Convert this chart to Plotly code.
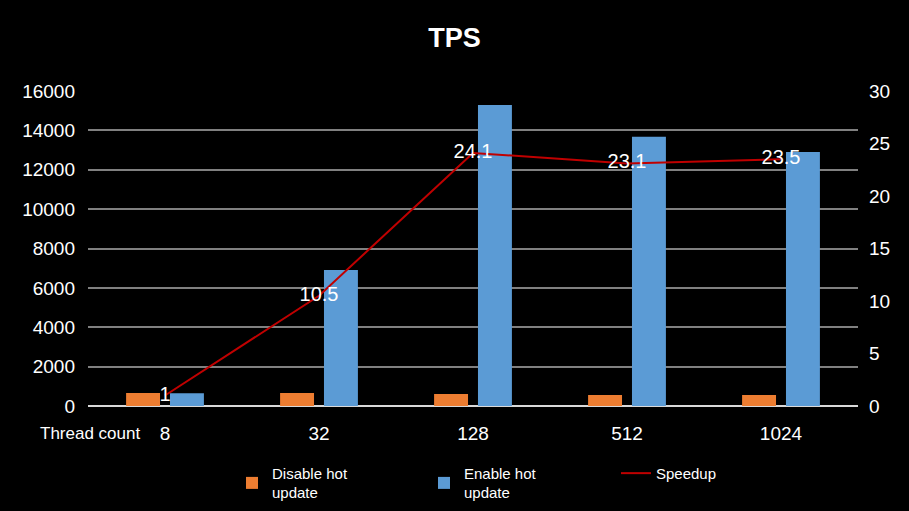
import plotly.graph_objects as go

# values
threads = ["8", "32", "128", "512", "1024"]
disable_hot = [660, 660, 610, 560, 560]
enable_hot = [650, 6910, 15290, 13670, 12900]
speedup = [1, 10.5, 24.1, 23.1, 23.5]
speedup_labels = ["1", "10.5", "24.1", "23.1", "23.5"]

font_name = "Liberation Sans Narrow, Liberation Sans, Arial"

fig = go.Figure()

fig.add_trace(go.Bar(
    x=threads, y=disable_hot, name="Disable hot<br>update",
    marker=dict(color="#ed7d31", line=dict(width=0)),
))
fig.add_trace(go.Bar(
    x=threads, y=enable_hot, name="Enable hot<br>update",
    marker=dict(color="#5b9bd5", line=dict(width=0)),
))
fig.add_trace(go.Scatter(
    x=threads, y=speedup, name="Speedup", yaxis="y2",
    mode="lines+text", line=dict(color="#c00000", width=2),
    text=speedup_labels, textposition="middle center",
    textfont=dict(color="white", size=20, family=font_name),
))

fig.update_layout(
    width=909, height=511,
    paper_bgcolor="black", plot_bgcolor="black",
    font=dict(family=font_name, color="white", size=17),
    title=dict(text="<b>TPS</b>", x=0.5, xanchor="center", y=0.927, yanchor="middle",
               font=dict(size=27, color="white", family="Liberation Sans, Arial")),
    margin=dict(l=88, r=51, t=91, b=105),
    barmode="group", bargap=0.43, bargroupgap=0.227,
    xaxis=dict(showgrid=False, showline=False, ticks="", ticklabelstandoff=14,
               tickfont=dict(size=19)),
    yaxis=dict(range=[0, 16000], dtick=2000, tickformat="d",
               gridcolor="#808080", gridwidth=2,
               zeroline=True, zerolinecolor="#d9d9d9", zerolinewidth=2,
               showline=False, ticks="", ticklabelstandoff=12,
               tickfont=dict(size=19)),
    yaxis2=dict(range=[0, 30], dtick=5, overlaying="y", side="right",
                showgrid=False, zeroline=False, showline=False, ticks="",
                ticklabelstandoff=10, tickfont=dict(size=19)),
    legend=dict(orientation="h", xref="container", yref="container",
                x=232 / 909, xanchor="left", y=0.055, yanchor="middle",
                font=dict(size=15, color="white"),
                entrywidth=147, traceorder="normal"),
    showlegend=True,
)

fig.add_annotation(text="Thread count", xref="paper", yref="paper",
                   x=-0.065, y=-0.052, xanchor="left", yanchor="top",
                   showarrow=False, font=dict(size=17, color="white"))

fig.write_html("out.html", config={"displayModeBar": False},
               post_script="document.body.style.margin='0';"
                           "document.body.style.background='black';")
